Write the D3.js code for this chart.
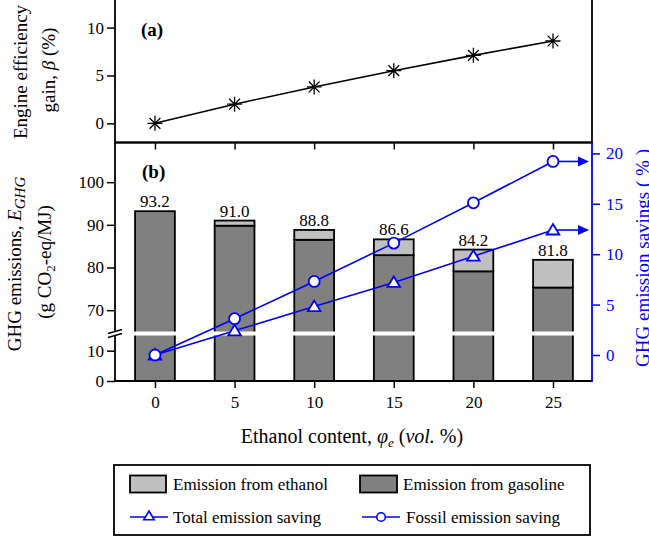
<!DOCTYPE html>
<html><head><meta charset="utf-8">
<script src="https://cdn.jsdelivr.net/npm/d3@7"></script>
<style>
body{margin:0;background:#fff;}
svg{display:block;}
text{font-family:"Liberation Serif","Times New Roman",serif;}
</style></head>
<body>
<script>
// ---- data ----
const ethanolContent = [0, 5, 10, 15, 20, 25];
const efficiencyGain = [0, 2.0, 3.8, 5.5, 7.1, 8.6];
const gasolineEmission = [93.2, 89.8, 86.5, 82.9, 79.1, 75.3];
const ethanolEmission = [0, 1.2, 2.3, 3.7, 5.1, 6.5];
const totalEmission = [93.2, 91.0, 88.8, 86.6, 84.2, 81.8];
const totalSaving = [0, 2.4, 4.8, 7.2, 9.8, 12.4];
const fossilSaving = [0, 3.6, 7.3, 11.1, 15.1, 19.2];
const ticksA = [0, 5, 10];
const ticksUpper = [70, 80, 90, 100];
const ticksLower = [0, 10];
const ticksRight = [0, 5, 10, 15, 20];
const legendLabels = ["Emission from ethanol", "Emission from gasoline", "Total emission saving", "Fossil emission saving"];

const W = 649, H = 539;
const BLUE = "#0000ff";
const L = 115, R = 592;
const aTop = 0, aBot = 142.5, bTop = 142.5, bBot = 381;
const breakTop = 331.5, breakBot = 335.5;

const svg = d3.select("body").append("svg").attr("width", W).attr("height", H);

const x = d3.scaleLinear().domain([-2.51, 27.45]).range([L, R]);
const yA = d3.scaleLinear().domain([-2.0, 12.88]).range([aBot, aTop]);
const yUp = d3.scaleLinear().domain([65, 109.3]).range([breakTop, bTop]);
const yLo = d3.scaleLinear().domain([0, 15]).range([bBot, breakBot]);
const yR = d3.scaleLinear().domain([-2.58, 21.08]).range([bBot, bTop]);
const yBar = v => v <= 15 ? yLo(v) : yUp(v);

function styleAxis(g, color, size) {
  g.select(".domain").remove();
  g.selectAll(".tick line").attr("stroke", color).attr("stroke-width", 1.5);
  g.selectAll(".tick text").attr("fill", color).style("font-size", size + "px")
    .style("font-family", '"Liberation Serif","Times New Roman",serif');
}

// ---------------- Panel (a) ----------------
const gA = svg.append("g");
gA.append("g").attr("transform", `translate(${L},0)`)
  .call(d3.axisLeft(yA).tickValues(ticksA).tickSize(8).tickPadding(3))
  .call(g => styleAxis(g, "#000", 17));

const lineA = d3.line().x((d, i) => x(ethanolContent[i])).y(d => yA(d));
gA.append("path").datum(efficiencyGain).attr("d", lineA)
  .attr("fill", "none").attr("stroke", "#000").attr("stroke-width", 1.6);

const star = (s) => `M${-s},0L${s},0M0,${-s}L0,${s}M${-s*0.72},${-s*0.72}L${s*0.72},${s*0.72}M${-s*0.72},${s*0.72}L${s*0.72},${-s*0.72}`;
gA.selectAll(".star").data(efficiencyGain).enter().append("path")
  .attr("transform", (d, i) => `translate(${x(ethanolContent[i])},${yA(d)})`)
  .attr("d", star(7.5)).attr("stroke", "#000").attr("stroke-width", 1.3).attr("fill", "none");

gA.append("text").attr("x", 141).attr("y", 36).text("(a)")
  .style("font-size", "19px").style("font-weight", "bold");

// frame a
gA.append("rect").attr("x", L).attr("y", -1).attr("width", R - L).attr("height", aBot + 1)
  .attr("fill", "none").attr("stroke", "#000").attr("stroke-width", 1.8);

// ---------------- Panel (b) ----------------
const gB = svg.append("g");
const bw = x(1.25) - x(0);
const bars = gB.selectAll(".bar").data(ethanolContent).enter().append("g");
bars.append("rect")
  .attr("x", d => x(d) - bw).attr("width", bw * 2)
  .attr("y", (d, i) => yBar(gasolineEmission[i]))
  .attr("height", (d, i) => bBot - yBar(gasolineEmission[i]))
  .attr("fill", "#808080").attr("stroke", "#000").attr("stroke-width", 1.8);
bars.filter((d, i) => ethanolEmission[i] > 0).append("rect")
  .attr("x", d => x(d) - bw).attr("width", bw * 2)
  .attr("y", d => yBar(totalEmission[ethanolContent.indexOf(d)]))
  .attr("height", d => { const i = ethanolContent.indexOf(d); return yBar(gasolineEmission[i]) - yBar(totalEmission[i]); })
  .attr("fill", "#c0c0c0").attr("stroke", "#000").attr("stroke-width", 1.8);
bars.append("text")
  .attr("x", d => x(d)).attr("y", (d, i) => yBar(totalEmission[i]) - 4)
  .attr("text-anchor", "middle").style("font-size", "17px")
  .text((d, i) => totalEmission[i].toFixed(1));

// white break band
gB.append("rect").attr("x", L + 1).attr("y", breakTop).attr("width", R - L - 2)
  .attr("height", breakBot - breakTop).attr("fill", "#fff");

// top ticks (inward)
gB.append("g").attr("transform", `translate(0,${bTop})`)
  .call(d3.axisBottom(x).tickValues(ethanolContent).tickSize(7).tickFormat(""))
  .call(g => styleAxis(g, "#000", 17));
// bottom axis
gB.append("g").attr("transform", `translate(0,${bBot})`)
  .call(d3.axisBottom(x).tickValues(ethanolContent).tickSize(7).tickPadding(8).tickFormat(d3.format("d")))
  .call(g => styleAxis(g, "#000", 17));
// left axes
gB.append("g").attr("transform", `translate(${L},0)`)
  .call(d3.axisLeft(yUp).tickValues(ticksUpper).tickSize(8).tickPadding(3))
  .call(g => styleAxis(g, "#000", 17));
gB.append("g").attr("transform", `translate(${L},0)`)
  .call(d3.axisLeft(yLo).tickValues(ticksLower).tickSize(8).tickPadding(3))
  .call(g => styleAxis(g, "#000", 17));
// right axis
gB.append("g").attr("transform", `translate(${R},0)`)
  .call(d3.axisRight(yR).tickValues(ticksRight).tickSize(8).tickPadding(6))
  .call(g => styleAxis(g, BLUE, 17));

// frame lines b
const frame = gB.append("g").attr("stroke-width", 1.8).attr("fill", "none");
frame.append("line").attr("x1", L).attr("x2", R).attr("y1", bTop).attr("y2", bTop).attr("stroke", "#000");
frame.append("line").attr("x1", L - 1).attr("x2", R).attr("y1", bBot).attr("y2", bBot).attr("stroke", "#000");
frame.append("line").attr("x1", L).attr("x2", L).attr("y1", bTop).attr("y2", breakTop).attr("stroke", "#000");
frame.append("line").attr("x1", L).attr("x2", L).attr("y1", breakBot).attr("y2", bBot + 0.9).attr("stroke", "#000");
frame.append("line").attr("x1", R).attr("x2", R).attr("y1", bTop).attr("y2", bBot + 0.9).attr("stroke", BLUE);
// break marks
frame.append("line").attr("x1", L - 7).attr("x2", L + 7).attr("y1", breakTop + 2).attr("y2", breakTop - 2).attr("stroke", "#000").attr("stroke-width", 1.5);
frame.append("line").attr("x1", L - 7).attr("x2", L + 7).attr("y1", breakBot + 2).attr("y2", breakBot - 2).attr("stroke", "#000").attr("stroke-width", 1.5);

// saving lines
const lineR = d3.line().x((d, i) => x(ethanolContent[i])).y(d => yR(d));
[fossilSaving, totalSaving].forEach(s => {
  gB.append("path").datum(s).attr("d", lineR).attr("fill", "none")
    .attr("stroke", BLUE).attr("stroke-width", 1.6);
  // arrow to right axis
  const lx = x(ethanolContent[ethanolContent.length - 1]);
  const ly = yR(s[s.length - 1]);
  gB.append("line").attr("x1", lx).attr("x2", R - 12).attr("y1", ly).attr("y2", ly)
    .attr("stroke", BLUE).attr("stroke-width", 1.6);
  gB.append("path").attr("d", `M${R - 14},${ly - 5}L${R - 3},${ly}L${R - 14},${ly + 5}Z`).attr("fill", BLUE);
});
const tri = (s) => `M0,${-s}L${s * 1.05},${s * 0.75}L${-s * 1.05},${s * 0.75}Z`;
gB.selectAll(".tri").data(totalSaving).enter().append("path")
  .attr("transform", (d, i) => `translate(${x(ethanolContent[i])},${yR(d)})`)
  .attr("d", tri(6)).attr("fill", "#fff").attr("stroke", BLUE).attr("stroke-width", 1.8);
gB.selectAll(".circ").data(fossilSaving).enter().append("circle")
  .attr("cx", (d, i) => x(ethanolContent[i])).attr("cy", d => yR(d)).attr("r", 5.5)
  .attr("fill", "#fff").attr("stroke", BLUE).attr("stroke-width", 1.8);

gB.append("text").attr("x", 142).attr("y", 178).text("(b)")
  .style("font-size", "19px").style("font-weight", "bold");

// ---------------- axis titles ----------------
const tA = svg.append("g").style("font-size", "19px");
tA.append("text").attr("transform", "translate(27,72) rotate(-90)").attr("text-anchor", "middle")
  .text("Engine efficiency");
const tA2 = tA.append("text").attr("transform", "translate(55,70) rotate(-90)").attr("text-anchor", "middle");
tA2.append("tspan").text("gain, ");
tA2.append("tspan").style("font-style", "italic").text("β");
tA2.append("tspan").text(" (%)");

const tB1 = svg.append("text").attr("transform", "translate(21,264) rotate(-90)").attr("text-anchor", "middle").style("font-size", "19px");
tB1.append("tspan").text("GHG emissions, ");
tB1.append("tspan").style("font-style", "italic").text("E");
tB1.append("tspan").style("font-style", "italic").style("font-size", "15px").attr("dy", 4).text("GHG");
const tB2 = svg.append("text").attr("transform", "translate(51,262) rotate(-90)").attr("text-anchor", "middle").style("font-size", "19px");
tB2.append("tspan").text("(g CO");
tB2.append("tspan").style("font-size", "13px").attr("dy", 4).text("2");
tB2.append("tspan").attr("dy", -4).text("-eq/MJ)");

svg.append("text").attr("transform", "translate(649,258) rotate(-90)").attr("text-anchor", "middle")
  .style("font-size", "19px").attr("fill", BLUE).text("GHG emission savings ( % )");

const tX = svg.append("text").attr("x", 352).attr("y", 443).attr("text-anchor", "middle").style("font-size", "20px");
tX.append("tspan").text("Ethanol content, ");
tX.append("tspan").style("font-style", "italic").text("φ");
tX.append("tspan").style("font-style", "italic").style("font-size", "13px").attr("dy", 4).text("e");
tX.append("tspan").attr("dy", -4).text(" (");
tX.append("tspan").style("font-style", "italic").text("vol.");
tX.append("tspan").text(" %)");

// ---------------- legend ----------------
const lg = svg.append("g");
lg.append("rect").attr("x", 114).attr("y", 465).attr("width", 476).attr("height", 70)
  .attr("fill", "#fff").attr("stroke", "#000").attr("stroke-width", 1.8);
const legendPos = [[130, 484], [360, 484], [130, 517], [362, 517]];
lg.append("rect").attr("x", 130).attr("y", 475.5).attr("width", 36).attr("height", 17)
  .attr("fill", "#c0c0c0").attr("stroke", "#000").attr("stroke-width", 1.8);
lg.append("rect").attr("x", 360).attr("y", 475.5).attr("width", 37).attr("height", 17)
  .attr("fill", "#808080").attr("stroke", "#000").attr("stroke-width", 1.8);
lg.append("line").attr("x1", 130).attr("x2", 168).attr("y1", 517).attr("y2", 517).attr("stroke", BLUE).attr("stroke-width", 1.6);
lg.append("path").attr("transform", "translate(149,516)").attr("d", tri(5)).attr("fill", "#fff").attr("stroke", BLUE).attr("stroke-width", 1.6);
lg.append("line").attr("x1", 362).attr("x2", 400).attr("y1", 517).attr("y2", 517).attr("stroke", BLUE).attr("stroke-width", 1.6);
lg.append("circle").attr("cx", 381).attr("cy", 517).attr("r", 4.3).attr("fill", "#fff").attr("stroke", BLUE).attr("stroke-width", 1.6);
const textX = [173, 403, 173, 406];
legendLabels.forEach((t, i) => {
  lg.append("text").attr("x", textX[i]).attr("y", legendPos[i][1] + 6).style("font-size", "17px").text(t);
});
</script>
</body></html>
